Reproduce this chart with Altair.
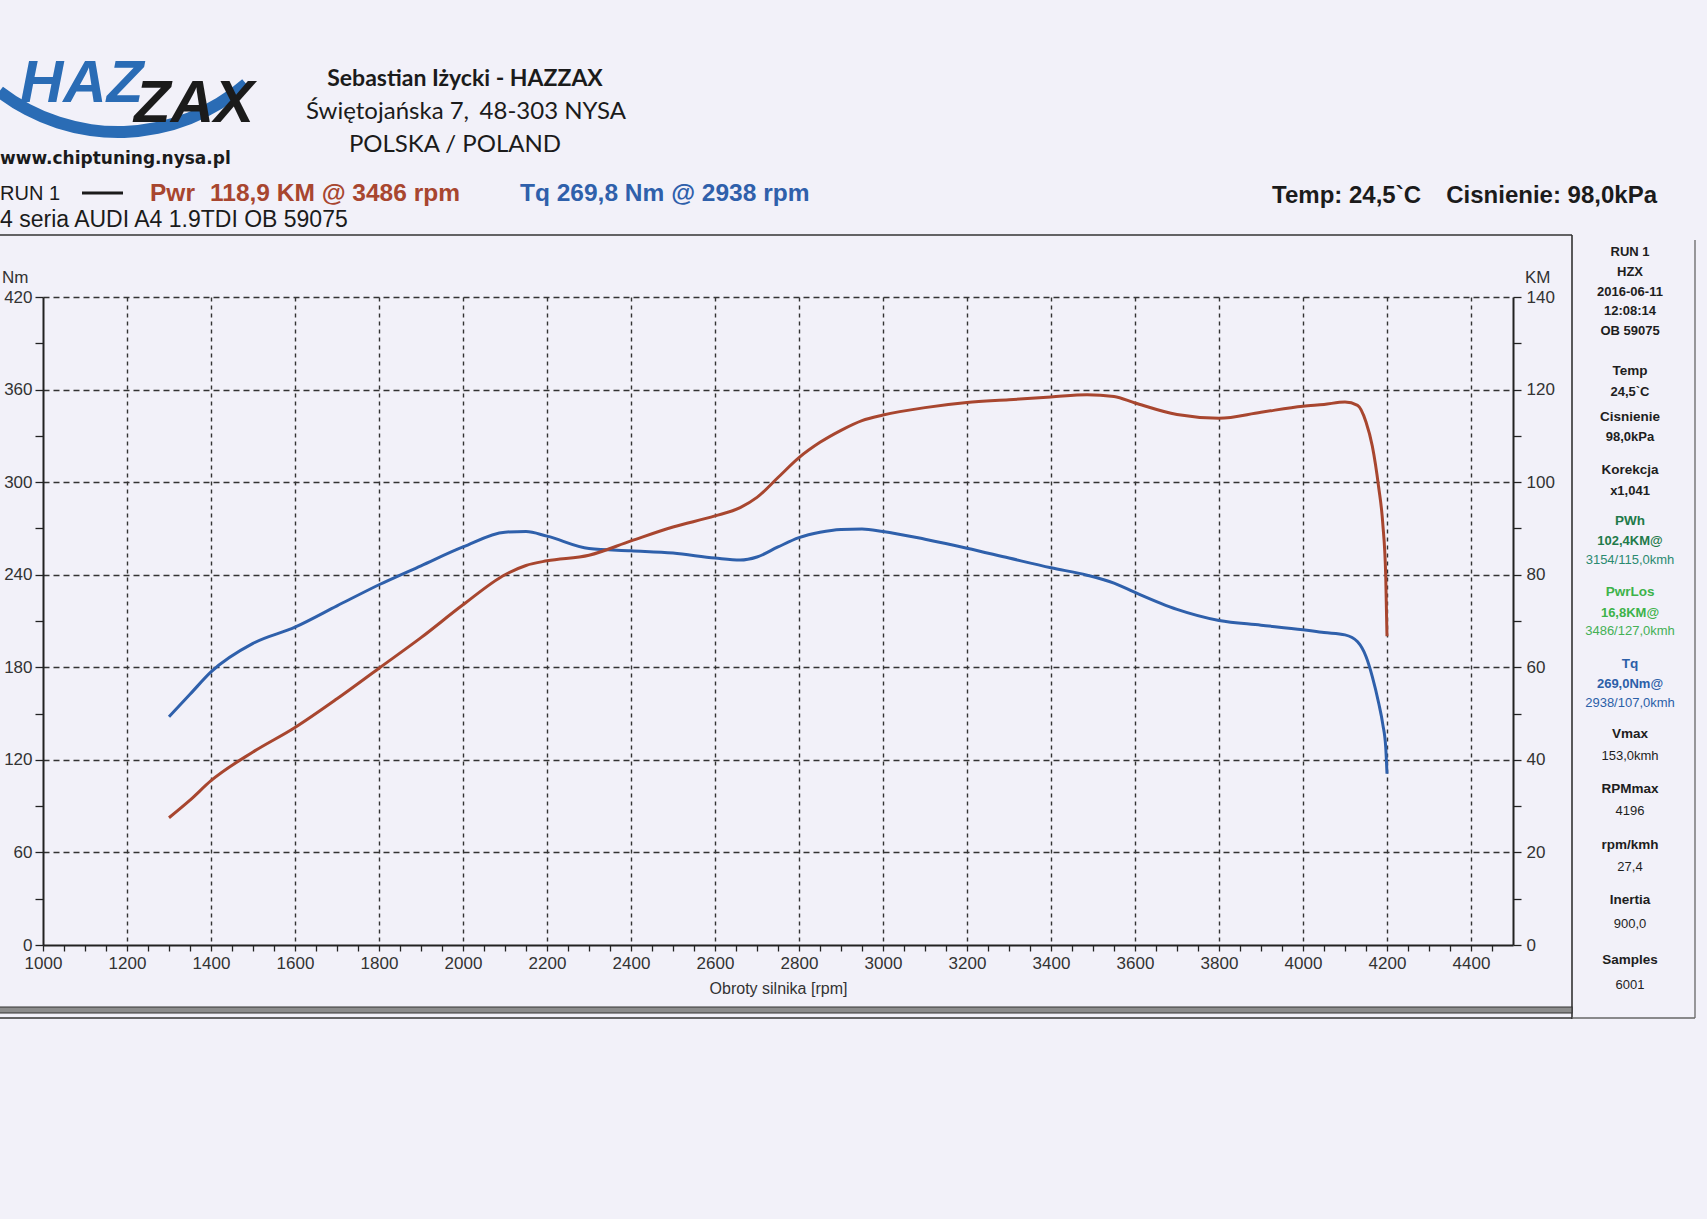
import altair as alt
import pandas as pd

# ---------------- data read from the dyno sheet ----------------
RPM = [1300, 1350, 1400, 1500, 1600, 1700, 1800, 1900, 2000, 2100, 2150, 2200,
       2300, 2400, 2500, 2600, 2660, 2700, 2750, 2800, 2850, 2900, 2950, 3000,
       3100, 3200, 3300, 3400, 3486, 3550, 3600, 3700, 3800, 3900, 4000, 4050,
       4100, 4130, 4150, 4165, 4180, 4190, 4197, 4200]
TORQUE_NM = [148, 162.5, 177, 195.5, 206, 219.8, 233.5, 245.8, 258, 267.6, 268, 265,
             257, 255.5, 254, 250.8, 249.5, 251.5, 258, 264, 267.5, 269.3, 269.6, 268,
             263, 257.2, 250.8, 244.5, 239.7, 234.6, 228.5, 217.5, 210.3, 207.3, 204.3, 202.5,
             201, 196.5, 187, 174, 157, 143, 128, 111]
POWER_KM = [27.5, 31.3, 35.5, 41.7, 47, 53.2, 59.8, 66.4, 73.5, 80, 82, 83,
            84.2, 87.3, 90.3, 92.7, 94.5, 96.7, 101, 105.3, 108.6, 111.2, 113.3, 114.5,
            116.1, 117.2, 117.8, 118.4, 118.9, 118.5, 117.1, 114.6, 113.8, 115.1, 116.4, 116.8,
            117.3, 116.6, 113, 107.8, 99, 91, 79.6, 66.7]

X_TICKS = list(range(1000, 4451, 50))
NM_TICKS = list(range(0, 421, 30))
KM_TICKS = list(range(0, 141, 10))

PANEL_LINES = [
    ("RUN 1", "bold", "#1e1e1e"), ("HZX", "bold", "#1e1e1e"),
    ("2016-06-11", "bold", "#1e1e1e"), ("12:08:14", "bold", "#1e1e1e"),
    ("OB 59075", "bold", "#1e1e1e"),
    ("Temp", "bold", "#1e1e1e"), ("24,5`C", "bold", "#1e1e1e"),
    ("Cisnienie", "bold", "#1e1e1e"), ("98,0kPa", "bold", "#1e1e1e"),
    ("Korekcja", "bold", "#1e1e1e"), ("x1,041", "bold", "#1e1e1e"),
    ("PWh", "bold", "#1f7a4a"), ("102,4KM@", "bold", "#1f7a4a"),
    ("3154/115,0kmh", "normal", "#2a8a70"),
    ("PwrLos", "bold", "#3db34a"), ("16,8KM@", "bold", "#3db34a"),
    ("3486/127,0kmh", "normal", "#44b055"),
    ("Tq", "bold", "#2c5fa8"), ("269,0Nm@", "bold", "#2c5fa8"),
    ("2938/107,0kmh", "normal", "#2c5fa8"),
    ("Vmax", "bold", "#1e1e1e"), ("153,0kmh", "normal", "#1e1e1e"),
    ("RPMmax", "bold", "#1e1e1e"), ("4196", "normal", "#1e1e1e"),
    ("rpm/kmh", "bold", "#1e1e1e"), ("27,4", "normal", "#1e1e1e"),
    ("Inertia", "bold", "#1e1e1e"), ("900,0", "normal", "#1e1e1e"),
    ("Samples", "bold", "#1e1e1e"), ("6001", "normal", "#1e1e1e"),
]
# layout (page pixel rows and sizes) for the side panel lines
PANEL_Y = [252, 272, 292, 311, 331, 371, 392, 417, 436.5, 470, 491, 521, 541, 559.5,
           592, 613, 631, 664, 683.6, 703, 734, 755.5, 789, 811, 845, 866.5, 900, 924,
           960, 985]
PANEL_SIZE = [13, 13, 13, 13, 13, 13.5, 13, 13.5, 13, 13.5, 13, 13.5, 13, 13,
              13.5, 13, 13, 13.5, 13, 13, 13.5, 13, 13.5, 13, 13.5, 13, 13.5, 13,
              13.5, 13]

# ---------------- layout ----------------
W, H = 1470, 648
OX, OY = 43, 297
PAGE_W, PAGE_H = 1707, 1219
BG = "#f2f1f9"
RED = "#a8462f"
BLUE = "#2f60ab"
INK = "#2a2a2a"
ARIAL = "Liberation Sans"

df = pd.DataFrame({"rpm": RPM, "Nm": TORQUE_NM, "KM": POWER_KM})
ONE = pd.DataFrame({"k": [0]})

x_scale = alt.Scale(domain=[1000, 4500], nice=False, zero=False)

x_axis = alt.Axis(
    orient="bottom", values=X_TICKS, format="d",
    labelExpr="datum.value % 200 === 0 ? datum.label : ''",
    labelOverlap=False, labelFlush=False, labelFont=ARIAL, labelFontSize=17,
    labelColor="#333", labelPadding=4, tickSize=6, tickColor="#222", tickWidth=1.3,
    domainColor="#222", domainWidth=2,
    grid=True, gridDash=[4, 4], gridColor="#333", gridWidth=1.4,
    gridOpacity={"condition": {"test": "datum.value % 200 === 0 && datum.value > 1000",
                               "value": 1}, "value": 0},
    title="Obroty silnika [rpm]", titleFont=ARIAL, titleFontSize=16,
    titleFontWeight="normal", titleColor="#333", titlePadding=9,
)

nm_axis = alt.Axis(
    orient="left", values=NM_TICKS, format="d",
    labelExpr="datum.value % 60 === 0 ? datum.label : ''",
    labelOverlap=False, labelFlush=False, labelFont=ARIAL, labelFontSize=17,
    labelColor="#333", labelPadding=3, tickSize=8, tickColor="#222", tickWidth=1.3,
    domainColor="#222", domainWidth=2,
    grid=True, gridDash=[6, 4], gridColor="#333", gridWidth=1.4,
    gridOpacity={"condition": {"test": "datum.value % 60 === 0 && datum.value > 0",
                               "value": 1}, "value": 0},
    title=None,
)

km_axis = alt.Axis(
    orient="right", values=KM_TICKS, format="d",
    labelExpr="datum.value % 20 === 0 ? datum.label : ''",
    labelOverlap=False, labelFlush=False, labelFont=ARIAL, labelFontSize=17,
    labelColor="#333", labelPadding=5, tickSize=8, tickColor="#222", tickWidth=1.3,
    domainColor="#222", domainWidth=2, grid=False, title=None,
)

torque = alt.Chart(df).mark_line(color=BLUE, strokeWidth=3, interpolate="monotone").encode(
    x=alt.X("rpm:Q", scale=x_scale, axis=x_axis),
    y=alt.Y("Nm:Q", scale=alt.Scale(domain=[0, 420], nice=False), axis=nm_axis),
)
power = alt.Chart(df).mark_line(color=RED, strokeWidth=3, interpolate="monotone").encode(
    x=alt.X("rpm:Q", scale=x_scale, axis=x_axis),
    y=alt.Y("KM:Q", scale=alt.Scale(domain=[0, 140], nice=False), axis=km_axis),
)


def txt(s, x, y, size, color=INK, weight="normal", align="left", font=ARIAL,
        style="normal", baseline="middle"):
    return alt.Chart(pd.DataFrame({"t": [s]})).mark_text(
        align=align, baseline=baseline, fontSize=size, font=font, fontWeight=weight,
        fontStyle=style, color=color,
    ).encode(text="t:N", x=alt.value(x - OX), y=alt.value(y - OY))


def rule(x1, y1, x2, y2, color=INK, width=1.5):
    return alt.Chart(ONE).mark_rule(color=color, strokeWidth=width).encode(
        x=alt.value(x1 - OX), x2=alt.value(x2 - OX),
        y=alt.value(y1 - OY), y2=alt.value(y2 - OY))


def rect(x1, y1, x2, y2, fill, stroke, width=1):
    return alt.Chart(ONE).mark_rect(fill=fill, stroke=stroke, strokeWidth=width).encode(
        x=alt.value(x1 - OX), x2=alt.value(x2 - OX),
        y=alt.value(y1 - OY), y2=alt.value(y2 - OY))


layers = [torque, power]

# frames
layers += [
    rule(-2, 235, 1572, 235, "#333", 1.6),
    rule(1572, 235, 1572, 1019, "#333", 1.6),
    rule(1695, 240, 1695, 1018, "#666", 1.3),
    rule(1572, 1018, 1695, 1018, "#666", 1.3),
    rect(-2, 1007, 1572, 1013, "#8c8c8c", "#333", 1.2),
    rule(-2, 1018, 1572, 1018, "#333", 1.6),
]

# logo
layers.append(
    alt.Chart(ONE).mark_arc(color="#2a6cb5", theta=2.42, theta2=3.80, radius=200, radius2=188)
    .encode(x=alt.value(118 - OX), y=alt.value(-62 - OY))
)
layers += [
    txt("HAZ", 20, 102, 60, "#2a6cb5", "bold", style="italic", baseline="alphabetic"),
    txt("ZAX", 134, 122, 60, "#1b1b1b", "bold", style="italic", baseline="alphabetic"),
    txt("www.chiptuning.nysa.pl", 0, 159, 17, "#1b1b1b", "bold", font="DejaVu Sans"),
]

# header
layers += [
    txt("Sebastian Iżycki - HAZZAX", 465, 79, 23, "#1b1b1b", "bold", "center", "Lato, Noto Sans"),
    txt("Świętojańska 7,", 306, 112, 24, "#1b1b1b", "normal", "left", "Lato, Noto Sans"),
    txt("48-303 NYSA", 626, 112, 24, "#1b1b1b", "normal", "right", "Lato, Noto Sans"),
    txt("POLSKA / POLAND", 455, 145, 24, "#1b1b1b", "normal", "center", "Lato, Noto Sans"),
    txt("RUN 1", 0, 194, 20, "#1b1b1b"),
    rule(82, 193, 123, 193, "#1b1b1b", 3),
    txt("Pwr", 150, 194, 24.5, RED, "bold"),
    txt("118,9 KM @ 3486 rpm", 210, 194, 24.5, RED, "bold"),
    txt("Tq 269,8 Nm @ 2938 rpm", 520, 194, 24.5, BLUE, "bold"),
    txt("4 seria AUDI A4 1.9TDI OB 59075", 0, 220, 23, "#1b1b1b"),
    txt("Temp: 24,5`C", 1421, 196, 24, "#1b1b1b", "bold", "right"),
    txt("Cisnienie: 98,0kPa", 1657, 196, 24, "#1b1b1b", "bold", "right"),
    txt("Nm", 2, 278, 17, "#333"),
    txt("KM", 1525, 278, 17, "#333"),
]

# side panel
for (s, w, c), yy, sz in zip(PANEL_LINES, PANEL_Y, PANEL_SIZE):
    layers.append(txt(s, 1630, yy, sz, c, w, "center"))

chart = alt.layer(*layers).resolve_scale(y="independent").properties(
    width=W, height=H,
    autosize=alt.AutoSizeParams(type="none"),
    padding={"left": OX, "top": OY, "right": PAGE_W - OX - W, "bottom": PAGE_H - OY - H},
    background=BG,
).configure_view(stroke=None)

chart.save("out.html", embed_options={"renderer": "svg", "actions": False})
